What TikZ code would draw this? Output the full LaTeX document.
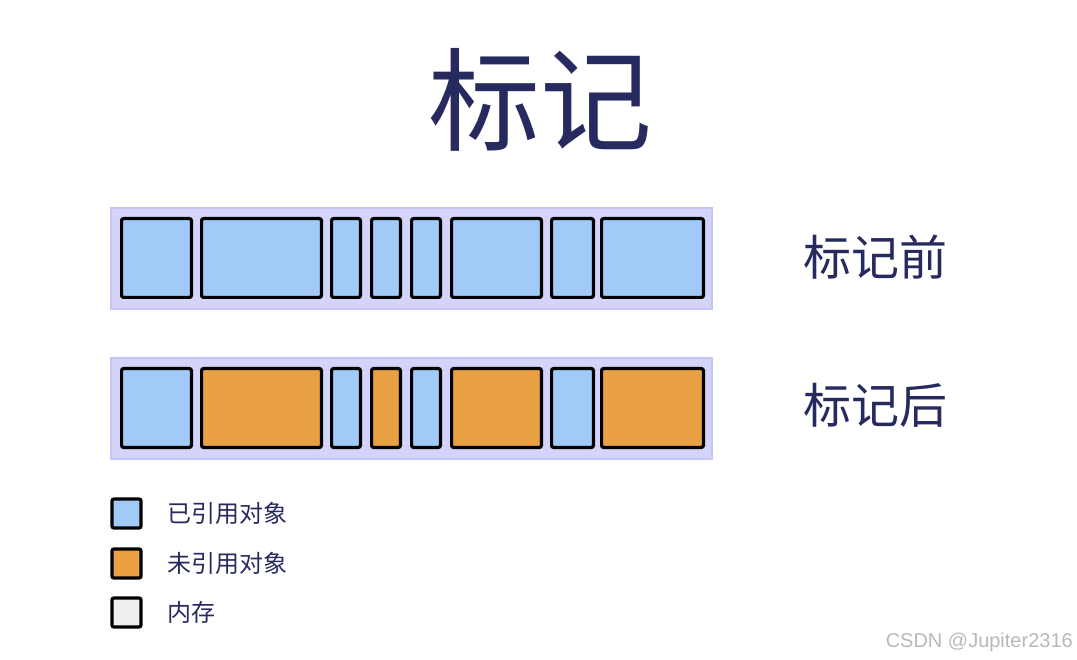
\documentclass[tikz,border=0pt]{standalone}
\usepackage{fontspec}
\setmainfont{Liberation Sans}
\newfontfamily\cjk{Noto Sans CJK SC}
\usepackage{xcolor}
\definecolor{refc}{HTML}{A2CAF8}
\definecolor{unrefc}{HTML}{E8A042}
\definecolor{memc}{HTML}{EFEFEF}
\definecolor{barc}{HTML}{D4D4FA}
\definecolor{baredge}{HTML}{C6C6F2}
\definecolor{navy}{HTML}{262A5E}
\usetikzlibrary{positioning}
\tikzset{
  heap/.style={fill=barc, draw=baredge, line width=2pt},
  cell/.style={draw=black, line width=3.2pt, rounded corners=2pt},
  key/.style={cell, minimum width=29pt, minimum height=29pt, inner sep=0pt},
  lbl/.style={font=\cjk\fontsize{48}{48}\selectfont, text=navy, inner sep=0pt},
  keytxt/.style={font=\cjk\fontsize{24}{24}\selectfont, text=navy, inner sep=0pt, anchor=west},
  headline/.style={font=\cjk\fontsize{112}{112}\selectfont, text=navy, inner sep=0pt}
}
\begin{document}
\begin{tikzpicture}[x=1pt, y=-1pt]
  \useasboundingbox (0,0) rectangle (1077,660);
  % title
  \node[headline] (title) at (540,100) {标记};
  % heap before marking
  \draw[heap] (111,208) rectangle (712,309);
  \foreach \a/\b/\c in {120/193/refc, 200/323/refc, 330/362/refc, 370/402/refc,
      410/442/refc, 450/543/refc, 550/595/refc, 600/705/refc}
    \draw[cell, fill=\c] (\a+1.6,218.6) rectangle (\b-1.6,297.4);
  \node[lbl] (before) at (875,257) {标记前};
  % heap after marking
  \draw[heap] (111,358) rectangle (712,459);
  \foreach \a/\b/\c in {120/193/refc, 200/323/unrefc, 330/362/refc, 370/402/unrefc,
      410/442/refc, 450/543/unrefc, 550/595/refc, 600/705/unrefc}
    \draw[cell, fill=\c] (\a+1.6,368.6) rectangle (\b-1.6,447.4);
  \node[lbl] (after) at (875,405) {标记后};
  % legend
  \node[key, fill=refc] (k1) at (126.5,513.5) {};
  \node[key, fill=unrefc] (k2) at (126.5,563.5) {};
  \node[key, fill=memc] (k3) at (126.5,612.5) {};
  \node[keytxt] (t1) at (167,513) {已引用对象};
  \node[keytxt] (t2) at (167,563) {未引用对象};
  \node[keytxt] (t3) at (167,612) {内存};
  % watermark
  \node[font=\fontsize{20}{20}\selectfont, text=black!28, anchor=east, inner sep=0pt] (wm) at (1073,642) {CSDN @Jupiter2316};
\end{tikzpicture}
\end{document}
